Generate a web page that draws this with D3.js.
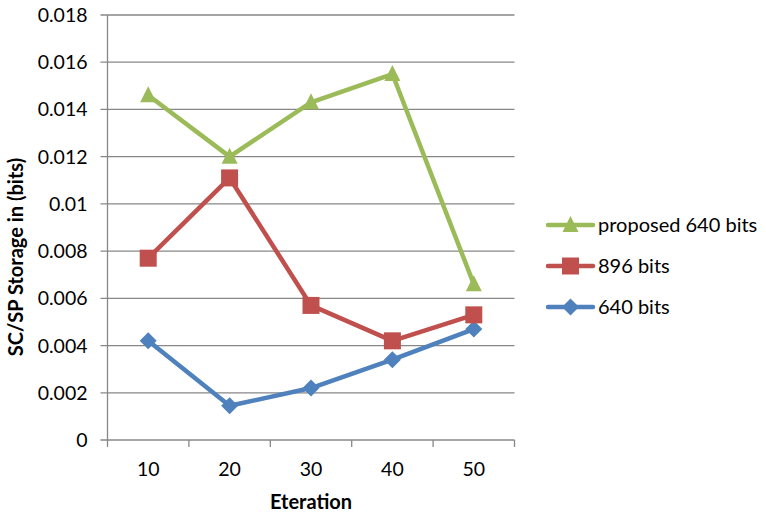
<!DOCTYPE html>
<html>
<head>
<meta charset="utf-8">
<script src="https://cdn.jsdelivr.net/npm/d3@7/dist/d3.min.js"></script>
<style>
  html, body { margin: 0; padding: 0; background: #fff; }
  svg { display: block; font-family: Lato, "Open Sans", sans-serif; }
</style>
</head>
<body>
<svg id="chart" width="766" height="518"></svg>
<script>
// Iterations on the x axis
const iterations = ["10", "20", "30", "40", "50"];
// SC/SP storage per series
const proposed640 = [0.0146, 0.0120, 0.0143, 0.0155, 0.0066];
const bits896     = [0.0077, 0.0111, 0.0057, 0.0042, 0.0053];
const bits640     = [0.0042, 0.00145, 0.0022, 0.0034, 0.0047];
const yTicks = [0, 0.002, 0.004, 0.006, 0.008, 0.01, 0.012, 0.014, 0.016, 0.018];
const yTickLabels = ["0", "0.002", "0.004", "0.006", "0.008", "0.01", "0.012", "0.014", "0.016", "0.018"];

const series = [
  { name: "proposed 640 bits", values: proposed640, color: "#9BBB59", marker: "triangle" },
  { name: "896 bits",          values: bits896,     color: "#C0504D", marker: "square" },
  { name: "640 bits",          values: bits640,     color: "#4F81BD", marker: "diamond" }
];

const svg = d3.select("#chart");
const plot = { left: 107.5, right: 514.5, top: 15, bottom: 440 };

const x = d3.scaleBand().domain(iterations).range([plot.left, plot.right]).paddingInner(0).paddingOuter(0);
const y = d3.scaleLinear().domain([0, 0.018]).range([plot.bottom, plot.top]);

const gridColor = "#878787";

// Horizontal gridlines with their left tick stubs
svg.append("g").selectAll("line").data(yTicks).join("line")
  .attr("x1", plot.left - 7).attr("x2", plot.right)
  .attr("y1", d => y(d)).attr("y2", d => y(d))
  .attr("stroke", gridColor).attr("stroke-width", 1.3);

// Y tick labels
svg.append("g").selectAll("text").data(yTicks).join("text")
  .attr("x", plot.left - 20).attr("y", d => y(d))
  .attr("dy", "0.36em").attr("text-anchor", "end")
  .attr("font-size", 19.5).attr("fill", "#000")
  .text((d, i) => yTickLabels[i]);

// Vertical axis line
svg.append("line")
  .attr("x1", plot.left).attr("x2", plot.left)
  .attr("y1", plot.top).attr("y2", plot.bottom + 1)
  .attr("stroke", gridColor).attr("stroke-width", 1.3);

// Category boundary ticks on the x axis
const boundaries = iterations.map(c => x(c)).concat([x(iterations[iterations.length - 1]) + x.step()]);
svg.append("g").selectAll("line").data(boundaries).join("line")
  .attr("x1", d => d).attr("x2", d => d)
  .attr("y1", plot.bottom).attr("y2", plot.bottom + 7)
  .attr("stroke", gridColor).attr("stroke-width", 1.3);

// X tick labels
svg.append("g").selectAll("text").data(iterations).join("text")
  .attr("x", d => x(d) + x.bandwidth() / 2).attr("y", 476)
  .attr("text-anchor", "middle").attr("font-size", 19.5).attr("fill", "#000")
  .text(d => d);

// Axis titles
svg.append("text")
  .attr("x", (plot.left + plot.right) / 2).attr("y", 509)
  .attr("text-anchor", "middle").attr("font-size", 20).attr("font-weight", "bold")
  .text("Eteration");

svg.append("text")
  .attr("transform", "translate(23,257) rotate(-90)")
  .attr("text-anchor", "middle").attr("font-size", 20).attr("font-weight", "bold")
  .text("SC/SP Storage in (bits)");

const cx = c => x(c) + x.bandwidth() / 2;

function drawMarker(g, type, color, px, py) {
  if (type === "triangle") {
    g.append("path")
      .attr("d", `M${px},${py - 9} L${px + 8},${py + 7} L${px - 8},${py + 7} Z`)
      .attr("fill", color);
  } else if (type === "square") {
    g.append("rect")
      .attr("x", px - 8.5).attr("y", py - 8.5).attr("width", 17).attr("height", 17)
      .attr("fill", color);
  } else {
    g.append("path")
      .attr("d", `M${px},${py - 8.5} L${px + 8.5},${py} L${px},${py + 8.5} L${px - 8.5},${py} Z`)
      .attr("fill", color);
  }
}

// Series lines and markers (draw blue first so green sits on top)
const line = d3.line().x((d, i) => cx(iterations[i])).y(d => y(d));
series.slice().reverse().forEach(s => {
  const g = svg.append("g");
  g.append("path").datum(s.values)
    .attr("d", line).attr("fill", "none")
    .attr("stroke", s.color).attr("stroke-width", 4.5)
    .attr("stroke-linejoin", "round");
  s.values.forEach((v, i) => drawMarker(g, s.marker, s.color, cx(iterations[i]), y(v)));
});

// Legend
const legendY = [225, 266, 307];
series.forEach((s, i) => {
  const g = svg.append("g");
  g.append("line")
    .attr("x1", 548).attr("x2", 593).attr("y1", legendY[i]).attr("y2", legendY[i])
    .attr("stroke", s.color).attr("stroke-width", 4.5).attr("stroke-linecap", "round");
  drawMarker(g, s.marker, s.color, 570.5, legendY[i]);
  g.append("text")
    .attr("x", 598).attr("y", legendY[i]).attr("dy", "0.36em")
    .attr("font-size", 20).attr("fill", "#000")
    .text(s.name);
});
</script>
</body>
</html>
